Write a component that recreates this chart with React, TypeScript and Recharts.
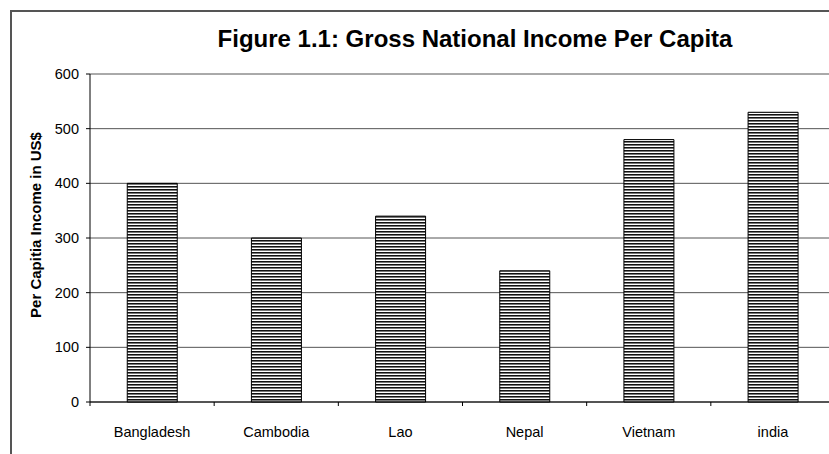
import { BarChart, Bar, XAxis, YAxis, CartesianGrid } from "recharts";

// ---- data ----
const countries = ["Bangladesh", "Cambodia", "Lao", "Nepal", "Vietnam", "india"];
const incomePerCapita = [400, 300, 340, 240, 480, 530];
const yTicks = [0, 100, 200, 300, 400, 500, 600];

const chartData = countries.map((name, i) => ({ name, income: incomePerCapita[i] }));

const FONT = "'Liberation Sans', Arial, sans-serif";
const CHART_W = 850;
const CHART_H = 454;
const MARGIN = { top: 74, right: 15, left: 0, bottom: 22 };
const Y_AXIS_W = 90;

// tick label at the band centre, tick mark at the band's left edge
function CategoryTick(props: any) {
  const { x, y, payload } = props;
  const band = (CHART_W - MARGIN.left - MARGIN.right - Y_AXIS_W) / countries.length;
  const half = payload?.offset ?? band / 2;
  const lx = x - half;
  return (
    <g>
      <line x1={lx} y1={402} x2={lx} y2={406} stroke="#000" strokeWidth={1} />
      <text x={x} y={y} dy="0.71em" textAnchor="middle" fill="#000" fontSize={14.5} fontFamily={FONT}>
        {payload.value}
      </text>
    </g>
  );
}

function YTitle({ viewBox }: any) {
  const cx = (viewBox?.x ?? 0) + 35;
  const cy = (viewBox?.y ?? 74) + (viewBox?.height ?? 328) / 2 - 13;
  return (
    <text
      x={cx}
      y={cy}
      transform={`rotate(-90 ${cx} ${cy})`}
      textAnchor="middle"
      dominantBaseline="central"
      fontSize={15}
      fontWeight="bold"
      fontFamily={FONT}
      fill="#000"
    >
      Per Capitia Income in US$
    </text>
  );
}

export default function App() {
  return (
    <div
      style={{
        position: "fixed",
        left: 0,
        top: 0,
        width: 829,
        height: 454,
        overflow: "hidden",
        background: "#fff",
        fontFamily: FONT,
      }}
    >
      <div
        style={{
          position: "absolute",
          left: 10,
          top: 10,
          width: 900,
          height: 500,
          border: "2px solid #555",
          boxSizing: "border-box",
        }}
      />
      <div
        style={{
          position: "absolute",
          left: 475,
          top: 27,
          transform: "translateX(-50%)",
          whiteSpace: "nowrap",
          fontSize: 24,
          lineHeight: "24px",
          fontWeight: "bold",
          color: "#000",
        }}
      >
        Figure 1.1: Gross National Income Per Capita
      </div>
      <div style={{ position: "absolute", left: 0, top: 0 }}>
        <BarChart width={CHART_W} height={CHART_H} data={chartData} margin={MARGIN} barCategoryGap="30%">
          <defs>
            <pattern id="hatch" patternUnits="userSpaceOnUse" width={4} height={3}>
              <rect x={0} y={0} width={4} height={3} fill="#fff" />
              <rect x={0} y={0} width={4} height={1} fill="#111" />
              <rect x={0} y={1} width={4} height={1} fill="#777" />
            </pattern>
          </defs>
          <CartesianGrid vertical={false} stroke="#555" />
          <XAxis
            dataKey="name"
            axisLine={{ stroke: "#000" }}
            tickLine={false}
            tick={<CategoryTick />}
            tickMargin={21}
            tickSize={4}
            height={30}
            interval={0}
          />
          <YAxis
            width={Y_AXIS_W}
            domain={[0, 600]}
            ticks={yTicks}
            interval={0}
            axisLine={{ stroke: "#000" }}
            tickLine={{ stroke: "#000" }}
            tickSize={4}
            tickMargin={7}
            tick={{ fontSize: 14.5, fill: "#000", fontFamily: FONT }}
            label={<YTitle />}
          />
          <Bar dataKey="income" fill="url(#hatch)" stroke="#000" strokeWidth={1} isAnimationActive={false} />
        </BarChart>
      </div>
    </div>
  );
}
